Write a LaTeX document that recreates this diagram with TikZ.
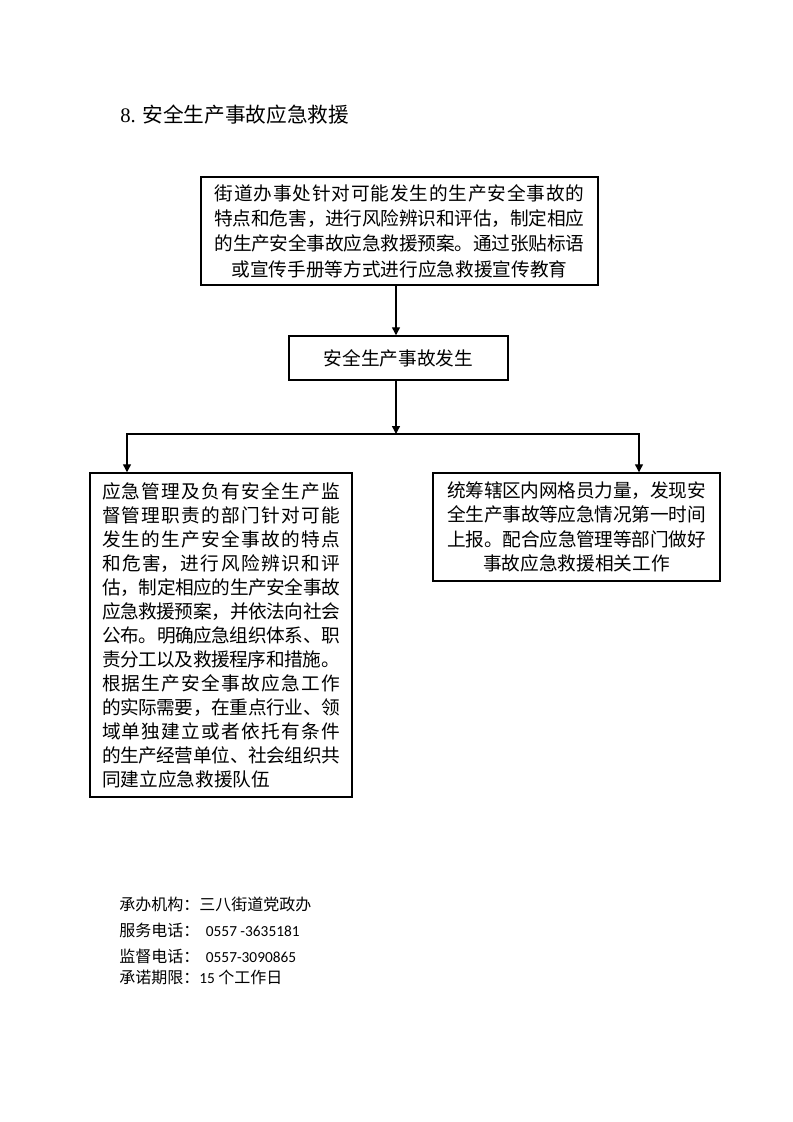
\documentclass[tikz,border=0pt]{standalone}
\usepackage{fontspec}
\setmainfont{Liberation Serif}
\newfontfamily\cjk{Noto Sans CJK SC}
\newfontfamily\numf{Carlito}
\usetikzlibrary{arrows.meta}
\XeTeXlinebreaklocale "zh"
\newcommand\cjkbody[1]{\cjk\fontsize{14}{#1}\selectfont\XeTeXlinebreakskip=0pt plus 0.3em minus 0.1em\relax}
\begin{document}
\begin{tikzpicture}[x=0.75pt,y=-0.75pt,
  box/.style={draw, line width=1.1pt, inner sep=0pt},
  conn/.style={line width=1pt},
  arr/.style={conn, -{Triangle[length=6pt,width=6pt]}},
  foot/.style={anchor=west, inner sep=0pt, font=\cjk\fontsize{12}{14}\selectfont}]
\useasboundingbox (0,0) rectangle (793,1122);
\node[anchor=west, inner sep=0pt] (title) at (120,115) {\fontsize{15.5}{18}\selectfont 8. {\cjk 安全生产事故应急救援}};
\node[box, minimum width=297.75pt, minimum height=81pt] (top) at (399.5,231) {\parbox{277.5pt}{\cjkbody{19}{\parfillskip=0pt 街道办事处针对可能发生的生产安全事故的\linebreak 特点和危害，进行风险辨识和评估，制定相应\linebreak 的生产安全事故应急救援预案。通过张贴标语\par}{\centering 或宣传手册等方式进行应急救援宣传教育\par}}};
\node[box, minimum width=164.25pt, minimum height=33pt] (b2) at (398.5,358) {\cjk\fontsize{14}{17}\selectfont 安全生产事故发生};
\node[box, minimum width=196.5pt, minimum height=243pt] (L) at (221,635) {\parbox{178.5pt}{\cjkbody{18}应急管理及负有安全生产监\linebreak 督管理职责的部门针对可能\linebreak 发生的生产安全事故的特点\linebreak 和危害，进行风险辨识和评\linebreak 估，制定相应的生产安全事故\linebreak 应急救援预案，并依法向社会\linebreak 公布。明确应急组织体系、职\linebreak 责分工以及救援程序和措施。\linebreak 根据生产安全事故应急工作\linebreak 的实际需要，在重点行业、领\linebreak 域单独建立或者依托有条件\linebreak 的生产经营单位、社会组织共\linebreak 同建立应急救援队伍\par}};
\node[box, minimum width=215.25pt, minimum height=81pt] (R) at (576.5,527) {\parbox{194pt}{\cjkbody{18.4}{\parfillskip=0pt 统筹辖区内网格员力量，发现安\linebreak 全生产事故等应急情况第一时间\linebreak 上报。配合应急管理等部门做好\par}{\centering 事故应急救援相关工作\par}}};
\coordinate (ax) at (396,0);
\coordinate (lx) at (127,0);
\coordinate (rx) at (639,0);
\coordinate (j) at (396,434);
\draw[arr] (top.south -| ax) -- (b2.north -| ax);
\draw[arr] (b2.south -| ax) -- (j);
\draw[arr] (j) -| (L.north -| lx);
\draw[arr] (j) -| (R.north -| rx);
\node[foot] (f1) at (119,904) {承办机构：三八街道党政办};
\node[foot] (f2) at (119,930) {服务电话：\hspace{5pt}{\numf\fontsize{11.5}{13}\selectfont 0557 -3635181}};
\node[foot] (f3) at (119,956) {监督电话：\hspace{5pt}{\numf\fontsize{11.5}{13}\selectfont 0557-3090865}};
\node[foot] (f4) at (119,977) {承诺期限：{\numf\fontsize{11.5}{13}\selectfont 15} 个工作日};
\end{tikzpicture}
\end{document}
